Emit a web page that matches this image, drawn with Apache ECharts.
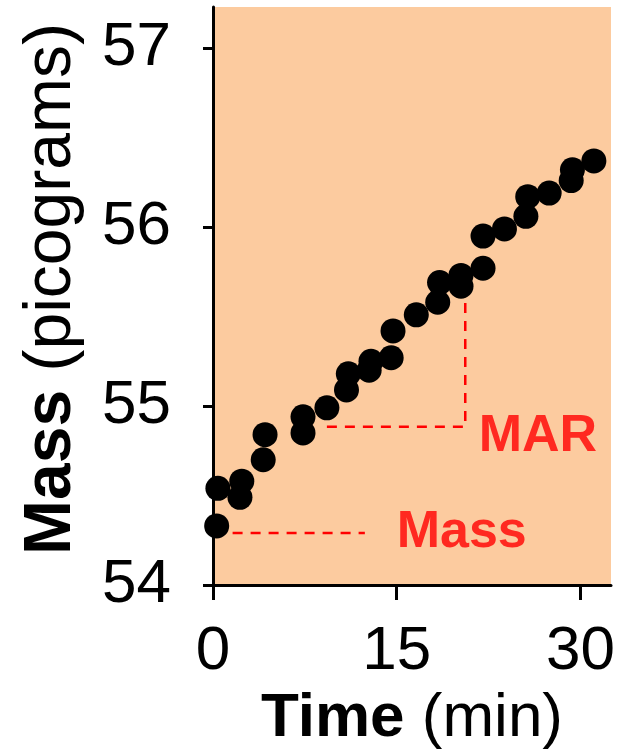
<!DOCTYPE html>
<html>
<head>
<meta charset="utf-8">
<script src="https://cdn.jsdelivr.net/npm/echarts@6/dist/echarts.min.js"></script>
<style>
html,body{margin:0;padding:0;background:#fff;}
#chart{width:621px;height:752px;}
</style>
</head>
<body>
<div id="chart"></div>
<script>
// Data
var times = [0.3, 0.4, 2.2, 2.35, 4.1, 4.25, 7.35, 7.35, 9.3, 10.9, 11.05, 12.75, 12.9, 14.55, 14.7, 16.6, 18.35, 18.5, 20.25, 20.25, 22.05, 22.05, 23.8, 25.55, 25.7, 27.45, 29.25, 29.35, 31.1];
var masses = [54.33, 54.54, 54.49, 54.58, 54.70, 54.84, 54.85, 54.94, 54.99, 55.09, 55.18, 55.20, 55.25, 55.27, 55.42, 55.51, 55.58, 55.69, 55.73, 55.67, 55.77, 55.95, 55.99, 56.06, 56.17, 56.19, 56.26, 56.32, 56.37];

var xTicks = [0, 15, 30];
var yTicks = [54, 55, 56, 57];

// Annotation guide lines (data space)
var massGuideX = [1.6, 12.4];
var massGuideY = [54.29, 54.29];
var marGuideX = [9.3, 20.6, 20.6];
var marGuideY = [54.885, 54.885, 55.73];

// Annotation labels (data space)
var labelTexts = ['MAR', 'Mass'];
var labelX = [21.7, 15.0];
var labelY = [54.83, 54.29];

var FONT = '"Liberation Sans", Arial, sans-serif';

function zip(a, b) { return a.map(function (v, i) { return [v, b[i]]; }); }

var chart = echarts.init(document.getElementById('chart'));
chart.setOption({
  animation: false,
  grid: {
    left: 213, right: 10, top: 7, bottom: 167,
    outerBoundsMode: 'none', containLabel: false,
    show: true, backgroundColor: '#FCCB9F', borderWidth: 0
  },
  xAxis: {
    type: 'value', min: 0, max: 32.5,
    name: '{b|Time} (min)',
    nameLocation: 'middle', nameGap: 103,
    nameTextStyle: { fontFamily: FONT, fontSize: 62, color: '#000',
      rich: { b: { fontFamily: FONT, fontSize: 62, fontWeight: 'bold', color: '#000' } } },
    axisLine: { show: true, onZero: false, lineStyle: { color: '#000', width: 3 } },
    axisTick: { show: true, length: 15, lineStyle: { color: '#000', width: 3 }, customValues: xTicks },
    axisLabel: { fontFamily: FONT, fontSize: 62, color: '#000', margin: 36, customValues: xTicks },
    splitLine: { show: false }
  },
  yAxis: {
    type: 'value', min: 54, max: 57.23,
    name: '{b|Mass} (picograms)',
    nameLocation: 'middle', nameGap: 128, nameRotate: 90,
    nameTextStyle: { fontFamily: FONT, fontSize: 66, color: '#000', padding: [0, 0, 0, 14],
      rich: { b: { fontFamily: FONT, fontSize: 66, fontWeight: 'bold', color: '#000' } } },
    axisLine: { show: true, onZero: false, lineStyle: { color: '#000', width: 3 } },
    axisTick: { show: true, length: 10, lineStyle: { color: '#000', width: 3 }, customValues: yTicks },
    axisLabel: { fontFamily: FONT, fontSize: 62, color: '#000', margin: 42, customValues: yTicks },
    splitLine: { show: false }
  },
  series: [
    {
      type: 'line', data: zip(massGuideX, massGuideY), symbol: 'none', silent: true,
      lineStyle: { color: '#FF0000', width: 2.5, type: [10, 8] }, z: 2
    },
    {
      type: 'line', data: zip(marGuideX, marGuideY), symbol: 'none', silent: true,
      lineStyle: { color: '#FF0000', width: 2.5, type: [10, 8] }, z: 2
    },
    {
      type: 'scatter', data: zip(times, masses), symbol: 'circle', symbolSize: 25,
      itemStyle: { color: '#000', opacity: 1 }, z: 3
    },
    {
      type: 'scatter', symbolSize: 0, silent: true, z: 4,
      data: labelTexts.map(function (t, i) { return { value: [labelX[i], labelY[i]], name: t }; }),
      label: { show: true, position: 'right', distance: 0, formatter: '{b}',
        fontFamily: FONT, fontSize: 52, fontWeight: 'bold', color: '#FF0000' }
    }
  ]
});
</script>
</body>
</html>
